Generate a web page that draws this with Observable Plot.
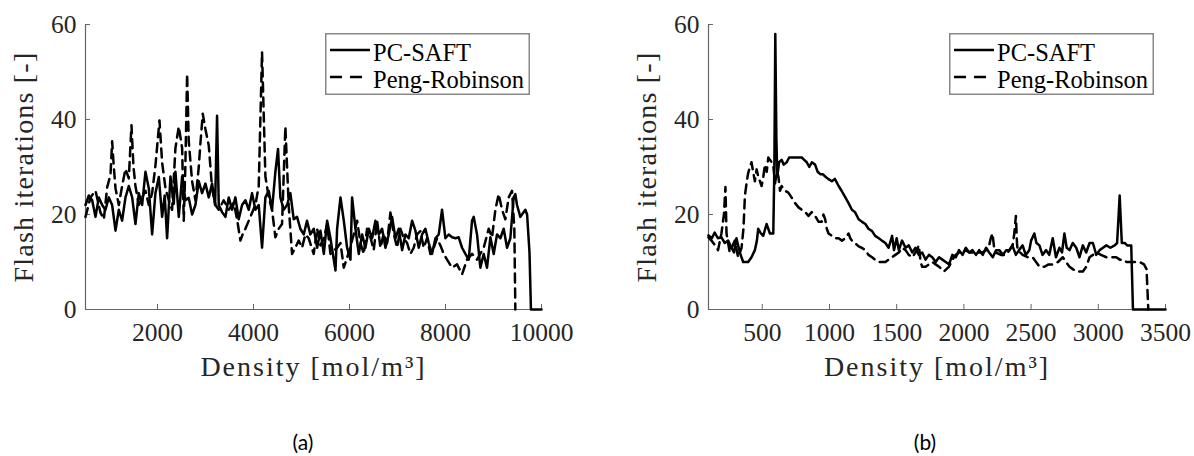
<!DOCTYPE html>
<html><head><meta charset="utf-8">
<script src="https://cdn.jsdelivr.net/npm/d3@7"></script>
<script src="https://cdn.jsdelivr.net/npm/@observablehq/plot@0.6"></script>
<style>
body{margin:0;background:#fff;}
#wrap{position:relative;width:1194px;height:456px;overflow:hidden;background:#fff;}
.panel{position:absolute;top:0;}
.panel svg text{font-family:"Liberation Serif","DejaVu Serif",serif;}
.legend{position:absolute;top:33px;}
.cap{position:absolute;top:430px;line-height:24px;font-family:Lato,"Open Sans",sans-serif;font-size:21px;color:#000;transform:translateX(-50%);}
</style></head><body><div id="wrap"></div>
<script>
// ---------- data ----------
const seriesNames = ["PC-SAFT", "Peng-Robinson"];
const xLabel = "Density [mol/m³]";
const yLabel = "Flash iterations [-]";
const captions = ["(a)", "(b)"];
const yTicks = [0, 20, 40, 60];
const xTicksA = [2000, 4000, 6000, 8000, 10000];
const xTicksB = [500, 1000, 1500, 2000, 2500, 3000, 3500];
const xDomainA = [500, 10000];
const xDomainB = [100, 3500];

// panel (a): [density, iterations]
const pcsaftA = [[500,22],[569,24],[639,23],[708,19.5],[778,23.6],[847,22],[916,21],[986,23.6],[1055,22],[1125,16.6],[1194,21],[1263,18.7],[1333,23.6],[1402,26],[1472,23.6],[1541,18],[1610,24.5],[1680,22],[1749,29],[1819,25.5],[1888,15.8],[1957,24.5],[2027,27.9],[2096,19.5],[2150,24],[2200,15],[2270,28],[2339,22.2],[2374,29],[2443,19.5],[2513,28],[2582,23],[2651,23.5],[2721,20],[2790,22],[2860,27],[2929,24.5],[2998,26.5],[3068,23.6],[3137,26.5],[3200,22],[3241,40.8],[3276,22],[3345,20.5],[3415,19.5],[3484,23.6],[3554,21],[3623,23.6],[3692,19],[3762,22],[3831,23],[3901,21],[3970,24.5],[4039,21],[4109,22],[4178,13],[4248,23.6],[4317,25],[4386,21],[4456,29],[4511,33.8],[4560,23.6],[4629,21],[4699,22],[4768,24.5],[4838,19],[4907,19.5],[4976,17],[5046,15.8],[5115,18.7],[5184,15.8],[5256,17],[5326,13],[5395,16.6],[5465,11.7],[5534,18.7],[5603,15],[5708,8.2],[5742,17],[5812,23.6],[5881,18.7],[5950,13],[6020,10.5],[6054,23.6],[6124,17],[6193,11.7],[6263,15.8],[6332,13],[6402,17],[6471,15],[6540,18.7],[6610,15.8],[6679,17],[6749,13],[6818,15.8],[6887,19.5],[6957,15],[7026,17],[7096,12.5],[7165,15.8],[7234,15],[7304,18.7],[7373,16.6],[7443,13],[7512,15.8],[7581,17],[7651,14],[7720,11.7],[7790,15],[7859,15.8],[7928,21],[7998,15],[8067,15.8],[8137,15.2],[8206,15],[8275,15.2],[8345,13],[8414,11.7],[8484,10.5],[8553,18.7],[8588,19.5],[8657,15.8],[8726,8.8],[8796,11.7],[8865,8.8],[8935,15.2],[9004,11.7],[9073,15.8],[9143,15],[9212,17],[9282,13],[9351,15],[9420,23.6],[9455,24.3],[9490,22],[9559,19.5],[9663,21],[9700,20],[9750,12],[9780,0],[10000,0]];
const pengA = [[500,19.5],[604,23.6],[708,25],[812,20.4],[882,19],[951,25.7],[1021,28.4],[1055,35.4],[1090,30],[1125,25.5],[1194,22],[1263,26],[1333,29.6],[1402,27.6],[1458,38.8],[1500,30],[1541,26],[1610,22],[1680,23.6],[1749,25],[1819,22],[1888,24.5],[1957,30.3],[2041,39.8],[2096,31],[2166,25.5],[2235,23],[2304,21],[2374,34],[2443,38.5],[2513,34],[2547,18.7],[2580,30],[2617,49.6],[2651,35.4],[2721,27],[2790,23],[2860,30],[2894,35],[2943,41.2],[2998,38],[3068,34.5],[3137,25.5],[3207,22],[3276,21],[3380,23],[3484,21],[3588,22.5],[3658,19],[3727,14.5],[3780,16],[3831,17],[3935,19.5],[4039,22],[4109,26],[4178,54.2],[4248,28],[4317,23.6],[4386,21],[4456,15.2],[4525,17],[4595,18],[4664,38.5],[4733,22],[4803,11.7],[4872,13],[4942,14.5],[5011,13],[5080,15.8],[5150,15],[5254,11.7],[5326,17],[5395,13.5],[5465,15],[5534,18],[5603,11.7],[5742,13],[5812,14],[5881,8.8],[5985,12],[6089,15.8],[6159,18.7],[6228,14],[6297,11.7],[6366,17],[6436,15.2],[6505,12.5],[6575,18.7],[6645,13],[6714,16],[6783,14],[6852,20.4],[6921,16],[6991,13],[7060,17],[7130,15],[7200,14],[7269,11.7],[7338,13],[7408,15.8],[7478,16.5],[7547,13],[7616,15],[7685,11.7],[7755,13],[7824,15],[7893,13.5],[7963,11.7],[8032,10.5],[8137,8.8],[8240,9.5],[8345,7.4],[8449,10.5],[8553,11.7],[8657,10.5],[8796,13],[8900,17],[8969,15.2],[9039,21],[9108,24.3],[9178,21],[9247,19],[9316,23.6],[9386,25],[9434,17],[9455,0]];

// panel (b): [density, iterations]
const pcsaftB = [[100,15.6],[125,15],[146,16.2],[170,15],[196,15.2],[221,14],[246,14.5],[271,13],[290,12],[308,15],[333,12],[358,10],[395,10],[420,11],[445,12.5],[460,14.5],[470,17],[490,16],[507,15.5],[532,18],[557,16],[575,16],[582,16],[590,30],[597,58],[605,36],[612,28],[625,31],[644,31.5],[660,30.5],[682,31],[700,32],[719,32],[760,32],[794,32],[812,31.5],[831,31],[850,30],[869,31],[893,30.5],[912,29],[931,28.5],[950,28.5],[968,28],[990,27.5],[1018,27],[1040,27.5],[1068,26],[1090,25],[1118,23.6],[1140,22.5],[1167,21],[1190,20.5],[1217,19],[1240,18.5],[1267,18],[1290,17],[1317,16.5],[1340,15.5],[1367,15],[1390,14.5],[1416,14],[1440,13],[1466,15.5],[1480,12.5],[1500,15],[1516,12.5],[1540,14.5],[1566,13],[1590,13.5],[1616,12],[1640,13],[1665,11.5],[1690,12],[1715,10.5],[1740,11.5],[1765,11],[1790,10],[1815,11],[1840,10.5],[1865,10],[1890,9.5],[1914,11.5],[1940,11],[1964,12.5],[1990,11.5],[2014,13],[2040,12],[2064,12.5],[2090,11.5],[2114,12.5],[2140,11.5],[2165,13],[2188,12],[2215,11],[2240,12.5],[2263,12.5],[2290,11.5],[2315,12.5],[2338,12.5],[2360,13.5],[2387,11.5],[2410,12.5],[2437,13.5],[2460,11.5],[2487,12.5],[2500,14.5],[2524,16],[2540,14],[2562,13.5],[2585,11.5],[2612,12.5],[2635,11.5],[2661,15],[2685,11],[2711,13],[2730,12],[2748,16],[2765,13],[2786,12.5],[2810,14],[2836,13],[2860,11],[2885,13.5],[2910,12],[2935,14],[2960,14],[2985,11.5],[3010,12.5],[3035,13],[3060,13.5],[3090,13],[3122,13.5],[3140,14],[3159,24],[3175,14],[3197,14],[3215,13.5],[3245,13.5],[3258,0],[3500,0]];
const pengB = [[100,15.2],[122,14.5],[150,13.5],[171,12.5],[196,16],[215,20],[226,25.8],[234,16],[258,12],[280,13.5],[296,14.5],[320,11],[346,13],[360,17],[371,24],[385,27],[395,28.7],[408,30],[420,31],[432,29],[445,27],[458,29.5],[470,28],[483,27],[495,26],[508,28],[520,30.5],[533,29],[545,32],[558,31.5],[570,31],[583,30],[595,26.5],[608,29],[620,28],[632,25],[644,26],[670,25],[694,24.6],[720,23.5],[744,22.4],[770,21.5],[794,21],[820,20.5],[844,19.7],[868,20.5],[893,19.7],[918,18.5],[943,18.5],[955,20],[968,19],[980,17],[993,16],[1018,15.5],[1043,15],[1068,15],[1093,14.5],[1118,15],[1142,16],[1155,15],[1167,14.5],[1190,14],[1217,13.3],[1240,13],[1267,12.5],[1290,11.5],[1317,11],[1340,10.5],[1367,10],[1390,10],[1416,10],[1440,10.5],[1466,11],[1490,11.5],[1516,12],[1540,13],[1566,12.5],[1590,11.5],[1616,11],[1640,12],[1665,13.5],[1678,10],[1690,9],[1715,9],[1740,9.5],[1765,10],[1790,9.5],[1815,9],[1835,8.5],[1852,8],[1870,8.5],[1889,9],[1915,10.5],[1939,11.5],[1965,12],[1990,12],[2014,12.5],[2040,12],[2064,12],[2100,12],[2138,12],[2165,12.5],[2188,13.5],[2200,15],[2213,16],[2225,13],[2238,12],[2275,11.5],[2313,11.5],[2340,12.5],[2363,13.5],[2375,16],[2387,19.7],[2395,14],[2400,12.5],[2437,11.5],[2475,11],[2512,11],[2537,10],[2562,9],[2600,9],[2630,9.5],[2661,9.5],[2700,10],[2736,11],[2760,10],[2786,9],[2810,8.5],[2836,8],[2860,8],[2885,8],[2910,9],[2935,11],[2960,11.5],[2985,12],[3020,11.5],[3060,11],[3100,11],[3134,11],[3160,10.5],[3184,10.5],[3210,10],[3234,10],[3270,10],[3309,10],[3340,9.5],[3359,8.5],[3372,0]];

// ---------- drawing ----------
const FONT = '"Liberation Serif","DejaVu Serif",serif';
const AX = "#666";

function panel({xDomain, xTicks, pc, pr, marginLeft, marginRight}) {
  const svg = Plot.plot({
    width: 597, height: 400,
    marginTop: 24, marginBottom: 91, marginLeft, marginRight,
    style: {fontFamily: FONT, background: "white", color: "#262626", overflow: "visible"},
    x: {domain: xDomain},
    y: {domain: [0, 60]},
    marks: [
      Plot.ruleY([0], {stroke: AX, strokeWidth: 1.2}),
      Plot.ruleX([xDomain[0]], {stroke: AX, strokeWidth: 1.2}),
      Plot.axisX(xTicks, {tickSize: -5, tickPadding: 18, fontSize: 25.5, fontFamily: FONT, stroke: AX, tickFormat: d3.format("d"), label: null}),
      Plot.axisY(yTicks, {tickSize: -5, tickPadding: 14, fontSize: 25.5, fontFamily: FONT, stroke: AX, label: null}),
      Plot.line(pr, {x: d => d[0], y: d => d[1], stroke: "black", strokeWidth: 2.5, strokeDasharray: "9,6"}),
      Plot.line(pc, {x: d => d[0], y: d => d[1], stroke: "black", strokeWidth: 2.5}),
      Plot.text([xLabel], {text: d => d, frameAnchor: "bottom", textAnchor: "middle", dy: 66, lineAnchor: "bottom", fontSize: 28, fontFamily: FONT, fill: "#262626"}),
      Plot.text([yLabel], {text: d => d, frameAnchor: "left", textAnchor: "middle", lineAnchor: "middle", dx: -61, rotate: -90, fontSize: 28, fontFamily: FONT, fill: "#262626"})
    ]
  });
  svg.querySelectorAll("text").forEach(t => {
    if (t.textContent === xLabel) t.style.letterSpacing = "2px";
    if (t.textContent === yLabel) t.style.letterSpacing = "1.2px";
  });
  return svg;
}

function legend(left) {
  return `<svg class="legend" style="left:${left}px" width="206" height="62" xmlns="http://www.w3.org/2000/svg">
  <rect x="0.75" y="0.75" width="203.5" height="60.5" fill="white" stroke="#888" stroke-width="1.5"/>
  <line x1="5" x2="45" y1="17" y2="17" stroke="black" stroke-width="2.5"/>
  <line x1="5" x2="37" y1="44" y2="44" stroke="black" stroke-width="2.5" stroke-dasharray="12,8"/>
  <text x="48" y="28" font-family='${FONT}' font-size="24.5" fill="#000">${seriesNames[0]}</text>
  <text x="48" y="55" font-family='${FONT}' font-size="24.5" fill="#000">${seriesNames[1]}</text>
  </svg>`;
}

const wrap = document.getElementById("wrap");
const pa = panel({xDomain: xDomainA, xTicks: xTicksA, pc: pcsaftA, pr: pengA, marginLeft: 85, marginRight: 56});
const pb = panel({xDomain: xDomainB, xTicks: xTicksB, pc: pcsaftB, pr: pengB, marginLeft: 111, marginRight: 29});
const da = document.createElement("div"); da.className = "panel"; da.style.left = "0px"; da.appendChild(pa);
const db = document.createElement("div"); db.className = "panel"; db.style.left = "597px"; db.appendChild(pb);
wrap.appendChild(da); wrap.appendChild(db);
wrap.insertAdjacentHTML("beforeend", legend(325) + legend(949));
wrap.insertAdjacentHTML("beforeend", `<div class="cap" style="left:303px">${captions[0]}</div><div class="cap" style="left:925px">${captions[1]}</div>`);
</script></body></html>
